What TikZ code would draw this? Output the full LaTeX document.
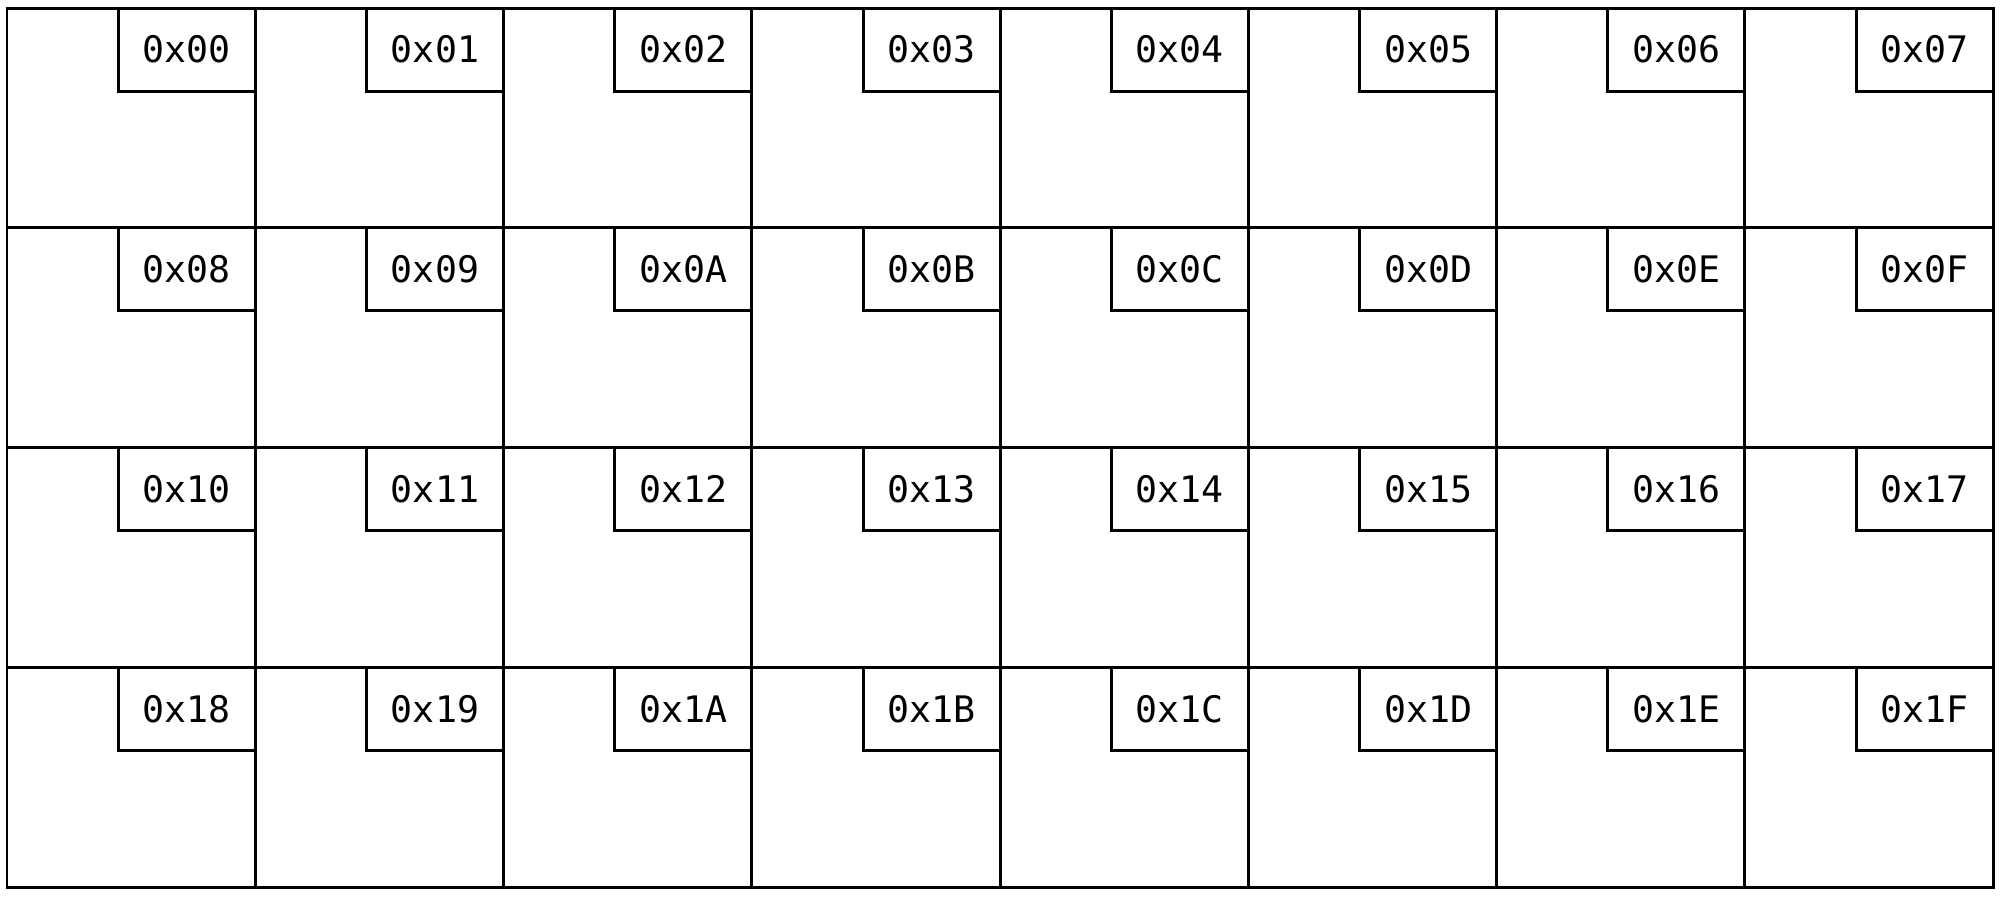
\documentclass[tikz,border=0pt]{standalone}
\usepackage{fontspec}
\setmonofont{DejaVu Sans Mono}

\begin{document}
\begin{tikzpicture}[
  cellbox/.style={draw,line width=0.85pt,minimum width=2.4825cm,minimum height=2.1975cm,
    inner sep=0pt,outer sep=0pt,anchor=north west},
  tagbox/.style={draw,line width=0.85pt,minimum width=1.37cm,minimum height=0.83cm,
    inner sep=0pt,outer sep=0pt,anchor=north east,fill=white,
    font=\ttfamily\fontsize{10.4}{12}\selectfont}]
  \useasboundingbox (0,0) rectangle (20,-8.97);
  % 8 x 4 cells, a tag in the top right corner of each
  \foreach \lbl [count=\i from 0] in {00,01,02,03,04,05,06,07,08,09,0A,0B,0C,0D,0E,0F,
                                      10,11,12,13,14,15,16,17,18,19,1A,1B,1C,1D,1E,1F} {
    \pgfmathtruncatemacro{\row}{\i/8}
    \pgfmathtruncatemacro{\col}{\i-8*\row}
    \node[cellbox] (cell\i) at ({0.07+2.4825*\col},{-0.08-2.1975*\row}) {};
    \node[tagbox] (tag\i) at (cell\i.north east) {0x\lbl};
  }
\end{tikzpicture}
\end{document}
